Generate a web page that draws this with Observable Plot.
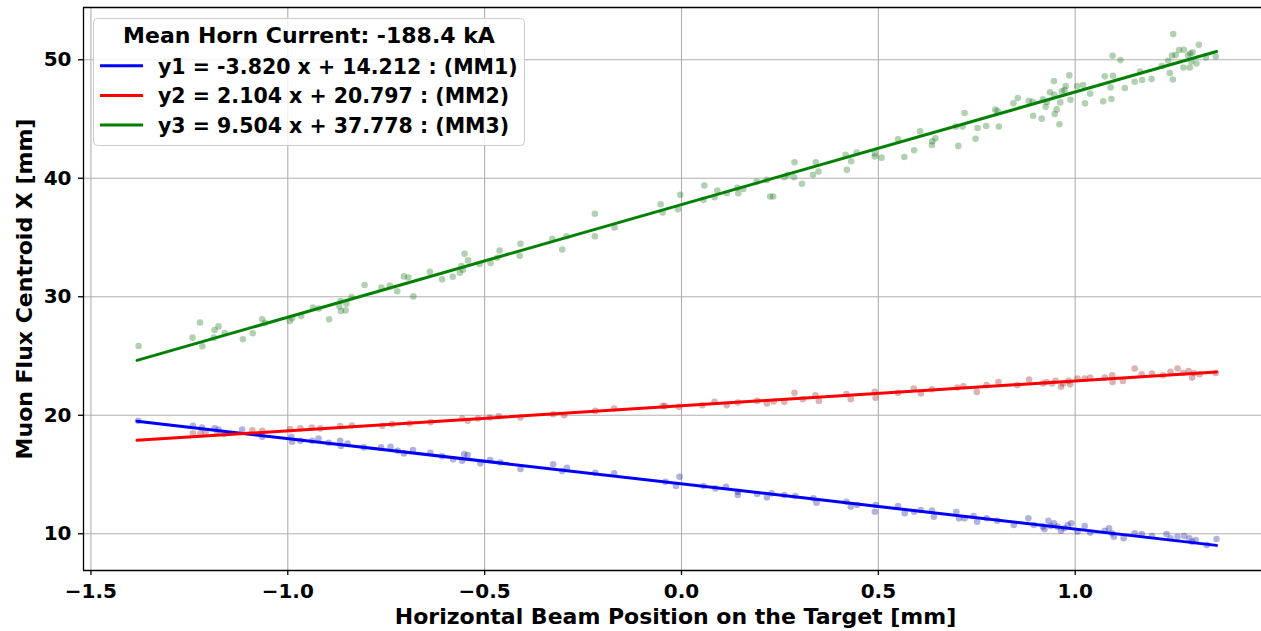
<!DOCTYPE html>
<html>
<head>
<meta charset="utf-8">
<script src="https://cdn.jsdelivr.net/npm/d3@7"></script>
<script src="https://cdn.jsdelivr.net/npm/@observablehq/plot@0.6"></script>
<style>
  body { margin: 0; background: #ffffff; }
  #chart { width: 1261px; height: 631px; }
</style>
</head>
<body>
<div id="chart"></div>
<script>
// Muon monitor centroids (MM1, MM2, MM3) versus horizontal beam position on the target
const mm1X = [-1.380,-1.241,-1.218,-1.186,-1.176,-1.116,-1.065,-0.991,-0.989,-0.968,-0.938,-0.922,-0.896,-0.867,-0.865,-0.848,-0.807,-0.763,-0.739,-0.721,-0.705,-0.682,-0.638,-0.608,-0.580,-0.552,-0.543,-0.557,-0.511,-0.486,-0.460,-0.409,-0.326,-0.303,-0.291,-0.219,-0.171,-0.041,-0.014,-0.005,
  0.056,0.086,0.113,0.143,0.143,0.192,0.217,0.229,0.261,0.289,0.335,0.343,0.419,0.430,0.446,0.491,0.493,0.550,0.567,0.591,0.608,0.641,0.636,0.698,0.705,0.719,0.742,0.751,0.775,0.802,0.844,0.881,0.895,0.918,0.922,0.932,0.938,0.946,0.955,0.964,0.972,0.981,0.990,1.006,1.024,1.038,1.075,1.086,1.094,1.098,1.123,1.151,1.169,1.195,1.232,1.242,1.260,1.277,1.290,1.297,1.306,1.334,1.359];
const mm1Y = [19.53,19.11,18.97,18.89,18.80,18.80,18.18,18.18,17.76,17.84,17.84,18.04,17.68,17.84,17.40,17.62,17.29,17.29,17.34,17.00,16.78,17.06,16.83,16.55,16.28,16.72,16.64,16.16,15.94,16.22,16.02,15.46,15.86,15.29,15.57,15.15,15.10,14.39,14.03,14.81,
  14.03,13.83,13.97,13.27,13.55,13.35,13.07,13.41,13.27,13.18,12.99,12.62,12.70,12.28,12.43,11.86,12.43,12.34,11.73,11.86,12.00,11.44,11.95,11.86,11.30,11.30,11.50,11.02,11.30,11.10,10.74,11.30,10.74,10.60,10.38,11.10,10.66,10.88,10.60,10.26,10.46,10.74,10.88,10.18,10.66,10.10,10.26,10.46,10.04,9.75,9.62,10.04,9.98,9.81,9.98,9.62,9.75,9.81,9.62,9.33,9.47,9.05,9.56];

const mm2X = [-1.241,-1.222,-1.209,-1.179,-1.162,-1.090,-1.065,-0.994,-0.968,-0.939,-0.917,-0.867,-0.837,-0.760,-0.735,-0.691,-0.637,-0.557,-0.543,-0.517,-0.487,-0.464,-0.409,-0.326,-0.298,-0.219,-0.171,-0.048,-0.042,-0.007,
  0.053,0.084,0.115,0.143,0.192,0.217,0.234,0.261,0.287,0.308,0.340,0.349,0.419,0.430,0.491,0.493,0.550,0.590,0.608,0.636,0.701,0.716,0.750,0.775,0.805,0.853,0.883,0.918,0.927,0.941,0.950,0.964,0.969,0.983,0.987,1.006,1.024,1.038,1.075,1.094,1.095,1.121,1.151,1.169,1.195,1.223,1.242,1.260,1.274,1.288,1.297,1.302,1.316,1.357];
const mm2Y = [18.47,18.47,18.58,18.52,18.41,18.74,18.69,18.83,18.89,18.97,18.89,19.08,19.14,19.11,19.25,19.31,19.42,19.73,19.53,19.73,19.81,19.92,19.81,20.09,20.00,20.37,20.57,20.79,20.77,20.71,
  20.85,21.13,20.85,21.08,21.21,20.99,21.16,21.13,21.89,21.36,21.69,21.21,21.78,21.36,21.97,21.47,21.89,22.26,21.84,22.20,22.34,22.45,21.97,22.54,22.81,22.54,23.02,22.68,22.81,22.68,22.90,22.40,22.68,22.90,22.62,23.10,23.10,23.18,23.18,23.38,22.81,22.90,23.94,23.46,23.52,23.38,23.66,23.94,23.57,23.74,23.18,23.57,23.46,23.57];

const mm3X = [-1.379,-1.242,-1.223,-1.217,-1.188,-1.186,-1.176,-1.160,-1.114,-1.089,-1.065,-1.058,-0.995,-0.989,-0.966,-0.936,-0.921,-0.895,-0.866,-0.869,-0.865,-0.853,-0.851,-0.838,-0.805,-0.762,-0.741,-0.722,-0.705,-0.694,-0.681,-0.639,-0.608,-0.581,-0.563,-0.555,-0.559,-0.551,-0.542,-0.513,-0.485,-0.468,-0.462,-0.411,-0.409,
  -0.328,-0.303,-0.292,-0.220,-0.220,-0.170,-0.053,-0.048,-0.009,-0.003,0.056,0.058,0.084,0.091,0.115,0.142,0.144,0.157,0.191,0.217,0.225,0.233,0.261,0.270,0.286,0.287,0.306,0.334,0.341,0.348,0.417,0.420,0.431,0.445,0.491,0.491,0.508,0.550,
  0.566,0.591,0.606,0.636,0.637,0.645,0.703,0.697,0.719,0.714,0.747,0.752,0.774,0.797,0.803,0.806,0.843,0.854,0.882,0.893,0.892,0.915,0.918,0.925,0.928,0.936,0.946,0.947,0.948,0.953,0.960,0.962,0.966,0.973,0.976,0.985,0.988,1.005,1.020,1.025,1.038,1.071,1.075,1.090,1.092,1.096,1.095,1.115,1.126,1.151,1.165,1.170,1.194,1.220,1.236,1.240,1.248,1.249,1.246,1.255,1.264,1.276,1.275,1.287,1.292,1.298,1.291,1.295,1.308,1.314,1.332,1.357];
const mm3Y = [25.85,26.55,27.82,25.82,26.55,27.20,27.50,26.94,26.41,26.92,28.10,27.78,27.95,28.20,28.37,29.08,29.00,28.10,29.64,29.19,28.80,28.85,29.42,29.97,30.99,30.77,30.94,30.46,31.72,31.63,30.03,32.11,31.47,31.69,32.03,32.28,32.59,33.63,33.07,32.76,32.84,33.29,33.91,33.46,34.47,
  34.90,33.99,35.11,37.00,35.11,35.85,37.81,37.11,37.39,38.60,38.18,39.39,38.40,38.96,38.74,39.19,38.74,39.10,39.72,39.86,38.46,38.46,40.08,40.29,40.08,41.35,39.53,40.29,41.35,40.56,41.97,40.71,41.43,42.16,42.10,41.83,41.74,43.29,
  41.80,42.36,43.96,42.81,43.12,43.37,42.73,44.36,45.51,44.36,43.34,44.24,44.41,45.79,45.68,44.36,46.32,46.77,46.52,45.28,46.46,45.03,46.66,46.04,46.44,47.25,48.20,47.05,45.42,45.81,44.55,46.40,47.33,47.45,47.78,48.68,46.63,47.78,47.87,46.32,47.14,46.49,48.60,47.67,46.69,48.65,50.34,49.97,47.62,48.15,49.01,48.29,48.37,49.47,49.92,48.88,48.34,52.17,50.36,50.40,50.82,50.84,49.35,50.36,50.53,50.62,49.35,49.86,49.69,51.26,50.19,50.28];

// Linear fits quoted in the legend
const monitorNames = ["MM1", "MM2", "MM3"];
const fitSlopes = [-3.820, 2.104, 9.504];
const fitIntercepts = [14.212, 20.797, 37.778];
const fitXRange = [-1.383, 1.359];

const xTicks = [-1.5, -1.0, -0.5, 0.0, 0.5, 1.0];
const yTicks = [10, 20, 30, 40, 50];
const legendTitle = "Mean Horn Current: -188.4 kA";
const xLabel = "Horizontal Beam Position on the Target [mm]";
const yLabel = "Muon Flux Centroid X [mm]";

const lineColors = ["#0000ff", "#ff0000", "#008000"];
const dotColors = ["darkblue", "darkred", "darkgreen"];

const seriesX = [mm1X, mm2X, mm3X];
const seriesY = [mm1Y, mm2Y, mm3Y];
const scatter = seriesX.map((xs, k) => xs.map((x, i) => ({x, y: seriesY[k][i]})));
const fits = fitSlopes.map((m, k) => fitXRange.map(x => ({x, y: m * x + fitIntercepts[k]})));

const xDomain = [-1.5189, 1.4732];
const yDomain = [6.90, 54.41];

const chart = Plot.plot({
  width: 1261,
  height: 631,
  marginLeft: 83,
  marginRight: 0,
  marginTop: 7,
  marginBottom: 61,
  x: {domain: xDomain},
  y: {domain: yDomain},
  style: {fontFamily: "'DejaVu Sans', sans-serif", fontWeight: "bold", fontSize: "20px", color: "#000000", background: "#ffffff"},
  marks: [
    Plot.gridX(xTicks, {stroke: "#b0b0b0", strokeOpacity: 1, strokeWidth: 1.1}),
    Plot.gridY(yTicks, {stroke: "#b0b0b0", strokeOpacity: 1, strokeWidth: 1.1}),
    ...scatter.map((pts, k) => Plot.dot(pts, {x: "x", y: "y", r: 3.3, fill: dotColors[k], fillOpacity: 0.3, stroke: null})),
    ...fits.map((seg, k) => Plot.line(seg, {x: "x", y: "y", stroke: lineColors[k], strokeWidth: 3})),
    // spines: left, bottom, top
    Plot.ruleX([xDomain[0]], {stroke: "#000000", strokeWidth: 1.3}),
    Plot.ruleY([yDomain[0]], {stroke: "#000000", strokeWidth: 1.3}),
    Plot.ruleY([yDomain[1]], {stroke: "#000000", strokeWidth: 1.3}),
    Plot.axisX(xTicks, {tickSize: 5, tickPadding: 8, tickFormat: d3.format(".1f"), fontSize: 20, label: null, strokeWidth: 1.3}),
    Plot.axisY(yTicks, {tickSize: 5, tickPadding: 7, tickFormat: d3.format("d"), fontSize: 20, label: null, strokeWidth: 1.3}),
    Plot.text([xLabel], {text: d => d, frameAnchor: "bottom", textAnchor: "middle", dx: 3, dy: 46, lineAnchor: "middle", fontSize: 22}),
    Plot.text([yLabel], {text: d => d, frameAnchor: "left", textAnchor: "middle", dx: -59, rotate: -90, lineAnchor: "middle", fontSize: 22})
  ]
});

document.getElementById("chart").appendChild(chart);

// Legend box with the fit equations
const svg = d3.select(chart);
const legend = svg.append("g")
  .attr("font-family", "'DejaVu Sans', sans-serif")
  .attr("font-weight", "bold")
  .attr("text-anchor", "start");
legend.append("rect")
  .attr("x", 93.5).attr("y", 18.5).attr("width", 431).attr("height", 127).attr("rx", 4)
  .attr("fill", "#ffffff").attr("fill-opacity", 0.8).attr("stroke", "#cccccc");
legend.append("text")
  .attr("x", 309).attr("y", 43.3).attr("text-anchor", "middle").attr("font-size", 22).attr("fill", "#000")
  .text(legendTitle);
fitSlopes.forEach((m, k) => {
  const cy = 66.7 + k * 29.7;
  legend.append("line")
    .attr("x1", 100).attr("x2", 143).attr("y1", cy - 1).attr("y2", cy - 1)
    .attr("stroke", lineColors[k]).attr("stroke-width", 3);
  legend.append("text")
    .attr("x", 158).attr("y", cy + 7).attr("text-anchor", "start").attr("font-size", 20.5).attr("fill", "#000")
    .text(`y${k + 1} = ${m.toFixed(3)} x + ${fitIntercepts[k].toFixed(3)} : (${monitorNames[k]})`);
});
</script>
</body>
</html>
